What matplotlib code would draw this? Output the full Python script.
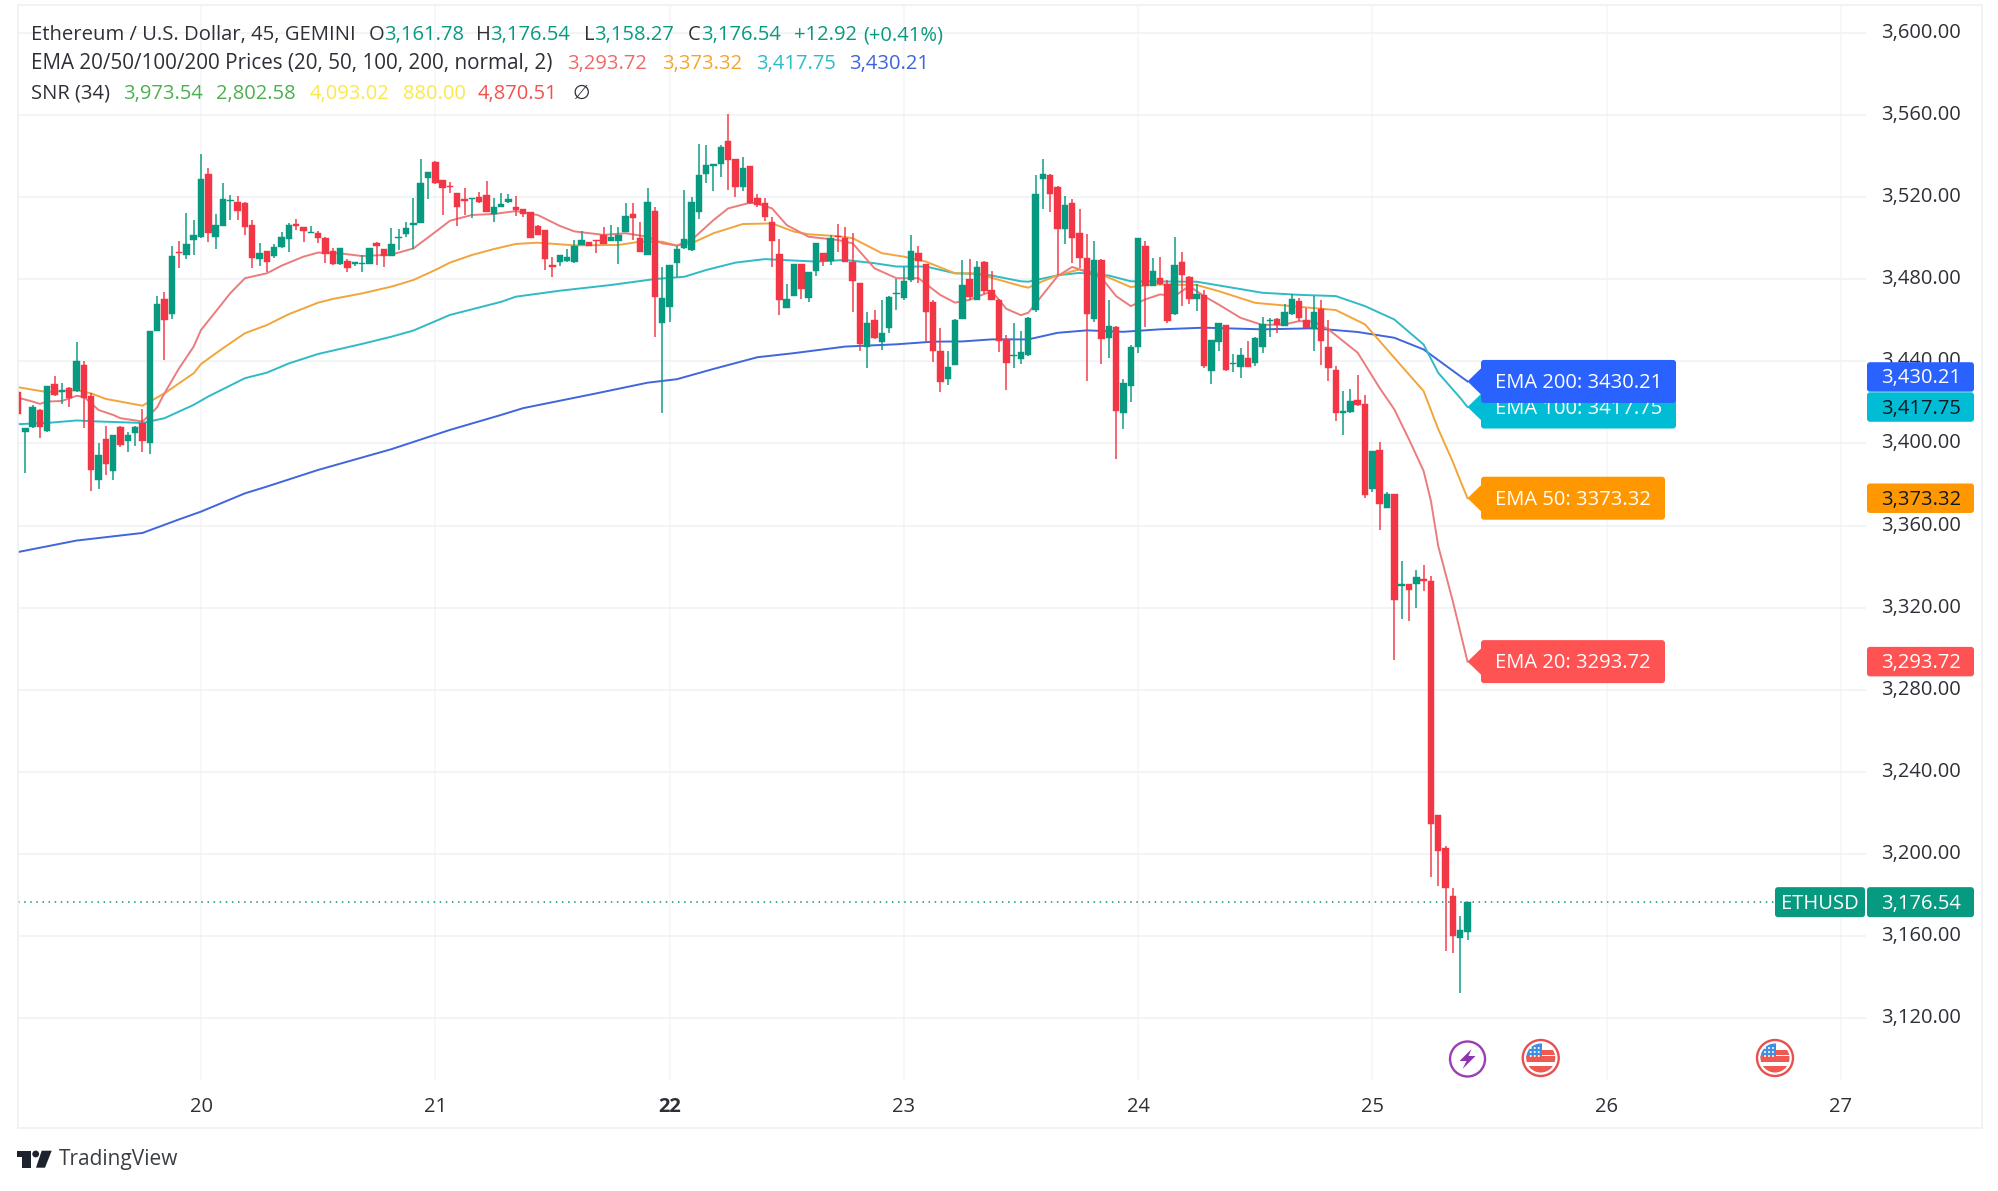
import matplotlib
matplotlib.use("Agg")
import matplotlib.pyplot as plt
from matplotlib.patches import Circle, FancyBboxPatch, Polygon, Rectangle

W, H = 1999, 1191
FONT = ["Open Sans", "DejaVu Sans"]
GREEN = "#089981"
RED = "#F23645"
DARK = "#2E3038"
GRID = "#F1F2F4"

plt.rcParams["font.family"] = FONT

# candles, 32 bars per day, bar 0 is the start of the 20th
first_bar = -25
opens = [
    3425.3, 3405.8, 3408, 3416.4, 3406, 3429, 3425, 3427, 3425.7, 3438,
    3423.3, 3382.2, 3402.2, 3386.6, 3408.2, 3401, 3405, 3410, 3400, 3455,
    3470.4, 3463, 3493, 3492, 3499, 3500.4, 3531.3, 3500.7, 3506, 3518,
    3517.8, 3517.3, 3506.4, 3490, 3493.6, 3491.5, 3495.6, 3499.4, 3506.8, 3505.3,
    3502.6, 3502.7, 3500, 3494, 3487.3, 3489, 3487.6, 3487.4, 3487.4, 3497.8,
    3494.7, 3491.5, 3500, 3502, 3506.6, 3507.6, 3529.5, 3537.3, 3528.3, 3525.4,
    3521.8, 3518.8, 3519, 3520, 3521.2, 3511.8, 3515.4, 3517.5, 3515.4, 3514.2,
    3512.6, 3505.8, 3504, 3487, 3488.6, 3488.7, 3488.2, 3496.7, 3498, 3499,
    3501.6, 3498.6, 3498.8, 3503, 3512, 3500, 3491.8, 3513.2, 3458.5, 3466.7,
    3487.8, 3495, 3494.3, 3512.6, 3531.3, 3535.3, 3536, 3547.5, 3538.4, 3525,
    3535.2, 3519.4, 3517, 3508, 3492.3, 3466.2, 3472, 3487.3, 3471, 3484,
    3492.6, 3489, 3500.7, 3500.3, 3488.6, 3478, 3447, 3460, 3449.6, 3456.4,
    3472.8, 3471, 3479.6, 3492.6, 3487.4, 3468.8, 3444.8, 3431.2, 3438.2, 3460.6,
    3480, 3470, 3488.5, 3475, 3470, 3450.7, 3442.6, 3441, 3443, 3465,
    3528.6, 3531, 3525, 3504.3, 3517.2, 3502.3, 3490.5, 3460.4, 3489.6, 3451.5,
    3456.9, 3415, 3428, 3447, 3496.1, 3476.7, 3480.7, 3477.5, 3462.9, 3488.5,
    3481.2, 3470.6, 3472.3, 3435.3, 3449.5, 3457.7, 3438.7, 3437.2, 3441.8, 3439.3,
    3447, 3459.6, 3460.4, 3457.2, 3462.9, 3469.4, 3460, 3455.6, 3465.3, 3447.1,
    3435.6, 3415, 3415.5, 3421, 3419, 3378, 3396.6, 3368.7, 3375.2, 3330.5,
    3331.3, 3331.6, 3333.9, 3333.1, 3219, 3202.9, 3179.6, 3159, 3161.78,
]
highs = [
    3426, 3407.5, 3418.8, 3417, 3428, 3433, 3429.6, 3427.4, 3449.3, 3440,
    3424.4, 3400.4, 3408.5, 3404, 3408.5, 3405.8, 3408.6, 3416.7, 3455, 3472,
    3474, 3496, 3498.8, 3512.4, 3509, 3541, 3534, 3512, 3527, 3521,
    3520.6, 3517.6, 3509, 3497.5, 3493.8, 3497, 3503.2, 3507.6, 3509.4, 3505.5,
    3506, 3503.5, 3500.5, 3495, 3495.4, 3489.7, 3488.5, 3492, 3495.2, 3498,
    3494.8, 3504.8, 3504.5, 3507.7, 3519.4, 3538.4, 3532.4, 3537.5, 3528.5, 3527.5,
    3522, 3524.3, 3519.4, 3522.7, 3527.9, 3519.4, 3521.8, 3521.5, 3520.7, 3514.4,
    3512.8, 3506.4, 3504.2, 3491, 3491.8, 3494.6, 3499, 3503.7, 3498.2, 3499.2,
    3505.3, 3506.4, 3505.6, 3517.3, 3517, 3508, 3524.6, 3515, 3486, 3487,
    3496.4, 3523.5, 3520.2, 3545.7, 3545.4, 3536.2, 3545.4, 3560.5, 3538.6, 3539.4,
    3535.4, 3521.4, 3519.4, 3510.2, 3499.4, 3477.5, 3487.3, 3487.5, 3483.7, 3497.5,
    3492.8, 3501.6, 3506.7, 3505.6, 3502.7, 3478.2, 3464.2, 3465, 3470, 3471.7,
    3480, 3486, 3501.6, 3496, 3487.6, 3470, 3456.4, 3445.2, 3460.5, 3489.4,
    3489.7, 3489, 3488.7, 3484, 3470.2, 3452.8, 3458.8, 3455, 3461.4, 3531,
    3538.7, 3531.2, 3525.2, 3520.5, 3519, 3514, 3501.8, 3498.6, 3489.8, 3470,
    3457.1, 3431.2, 3447.8, 3499.9, 3498.6, 3490.5, 3490.8, 3479.6, 3500.7, 3493.4,
    3481.4, 3477.5, 3475, 3450.6, 3458.8, 3457.9, 3443.4, 3446.3, 3449.9, 3451.7,
    3461.6, 3461.2, 3461.2, 3467.7, 3472.9, 3471, 3466, 3471.8, 3469.8, 3460,
    3437.7, 3425.5, 3426.3, 3433.2, 3423.4, 3396.5, 3400.8, 3376.5, 3375.4, 3342.8,
    3331.5, 3338.5, 3341, 3335.4, 3219.2, 3203.8, 3183.3, 3170, 3176.54,
]
lows = [
    3414, 3385.5, 3407.5, 3402.5, 3405.8, 3423, 3419, 3418, 3425.2, 3407.4,
    3377, 3378, 3384.7, 3382, 3398.5, 3396, 3399, 3396, 3395, 3455,
    3440.7, 3460.6, 3485.3, 3489.7, 3492, 3500, 3498.3, 3494.7, 3506, 3509,
    3509, 3501.6, 3485.3, 3486.6, 3483.7, 3490.2, 3495, 3493.4, 3504, 3498.3,
    3502.5, 3497.5, 3487.8, 3487, 3487, 3483.4, 3486.5, 3483.4, 3487.2, 3487,
    3486, 3491.3, 3494.3, 3500.4, 3494.7, 3507.4, 3519, 3526.5, 3511.3, 3522,
    3506, 3511.3, 3509.7, 3517, 3513, 3507.7, 3515.2, 3517.3, 3511, 3510.5,
    3500.3, 3501.4, 3484.5, 3481, 3486.6, 3488.5, 3488, 3496.5, 3496.2, 3493,
    3497, 3498.4, 3487.3, 3502.8, 3499, 3493.2, 3491.6, 3452, 3414.7, 3459,
    3481, 3494.8, 3494, 3509.4, 3526.7, 3523, 3530, 3523.5, 3520, 3523,
    3516.8, 3515.4, 3508.5, 3486, 3462.6, 3466, 3471.8, 3470.4, 3469, 3481.8,
    3486.6, 3487, 3493.4, 3488.4, 3464.2, 3444.8, 3437, 3451.1, 3445.5, 3454,
    3465, 3470, 3478.5, 3478, 3449.6, 3439.6, 3425, 3428.5, 3438, 3460.4,
    3470, 3469.8, 3473, 3469.8, 3444.7, 3426, 3437, 3438.5, 3442.8, 3464,
    3514, 3513, 3482.3, 3497, 3487.7, 3485.6, 3430.4, 3459.3, 3438.5, 3441.8,
    3392.2, 3406.9, 3420, 3443.9, 3456.7, 3476.5, 3477.3, 3458.8, 3462.7, 3467,
    3467.7, 3464.5, 3436.6, 3428.8, 3445, 3435.5, 3435, 3432, 3437.2, 3437.7,
    3443.9, 3452, 3453.6, 3457, 3462.5, 3459.6, 3456.2, 3445, 3438, 3430.4,
    3411, 3404, 3415, 3418.3, 3373.6, 3376.5, 3358, 3368.4, 3294.7, 3314.3,
    3313.5, 3319.9, 3328.3, 3188.9, 3184.3, 3152.9, 3151.6, 3132.4, 3158.27,
]
closes = [
    3414.4, 3407.4, 3418, 3408, 3428, 3423.6, 3426, 3422, 3440, 3422.3,
    3387, 3394.4, 3390, 3404, 3399.3, 3404, 3408, 3401, 3455, 3468,
    3460, 3491.3, 3492.6, 3497, 3501.6, 3528.7, 3502.4, 3506.4, 3519, 3518.6,
    3513.4, 3505.3, 3490.2, 3493, 3488.6, 3495.6, 3500.4, 3506.4, 3506, 3503.7,
    3503, 3500, 3492.3, 3487.4, 3495.4, 3485.6, 3488, 3487.8, 3495.2, 3496,
    3491.5, 3497, 3500.4, 3504.8, 3507, 3526.7, 3532.4, 3526.7, 3524.3, 3524.8,
    3515.4, 3518.3, 3519.3, 3517.8, 3513, 3515.4, 3516.7, 3519, 3513.7, 3512,
    3500.3, 3501.6, 3489.7, 3485.8, 3491.8, 3490.7, 3496.2, 3499, 3496.4, 3498.6,
    3497.2, 3500.7, 3501.6, 3511, 3509.7, 3493.4, 3517.5, 3471.5, 3470.7, 3487,
    3494.7, 3499.6, 3517.5, 3530.8, 3535.6, 3536, 3544.6, 3538, 3524.8, 3534.2,
    3517, 3516.2, 3510.2, 3498.8, 3470, 3470.2, 3487.3, 3475.3, 3483.7, 3497.5,
    3489, 3500, 3500.4, 3488.6, 3479.3, 3448.5, 3458.5, 3451.3, 3454, 3471.5,
    3473.5, 3479, 3494, 3489, 3464.2, 3444.8, 3430, 3437.4, 3460, 3477.2,
    3471.2, 3486, 3474.2, 3470, 3450, 3439.3, 3443, 3444.7, 3461.2, 3521.3,
    3531.5, 3521.6, 3504.7, 3516.4, 3500.2, 3490.5, 3463, 3489.6, 3450.7, 3457.2,
    3415.8, 3429.3, 3447, 3499.9, 3476.7, 3484, 3477.5, 3459.6, 3486.7, 3482.3,
    3470.2, 3472.9, 3437.7, 3450.4, 3458.5, 3435.7, 3439, 3443, 3437.4, 3451.5,
    3458.3, 3460, 3457.7, 3464.2, 3470.2, 3461, 3456.4, 3464.2, 3449.9, 3436.9,
    3415, 3415.5, 3420.6, 3418.5, 3374.7, 3396.3, 3370.3, 3375.2, 3323.8, 3331.3,
    3328.8, 3334.8, 3333.1, 3214.5, 3201.6, 3183.3, 3160, 3163.2, 3176.54,
]

ema20_bars = [-25, -23, -22, -21, -19, -17, -16, -14, -12, -11, -8, -7, -6, -5, -3, -1, 0, 2, 4, 6,
              9, 11, 14, 16, 19, 22, 26, 29, 32, 34, 37, 40, 43, 46, 49, 51, 55, 58, 61, 63,
              65, 67, 70, 72, 75, 76, 78, 80, 83, 87, 89, 92, 95, 98, 101, 103, 105, 108, 110, 112,
              113, 115, 117, 119, 120, 123, 125, 127, 129, 131, 133, 135, 137, 139, 142, 145, 148, 150, 152, 154,
              158, 161, 163, 165, 167, 168, 169, 171, 173]
ema20_vals = [3422.3, 3420.4, 3419.3, 3420.4, 3420.7, 3423.2, 3422.8, 3416.3, 3413.9, 3412.3, 3410.7, 3413.9, 3417.6, 3424.4, 3436.6, 3447.2, 3455.3, 3464.2, 3473.2, 3480.5,
              3482.9, 3486.6, 3491, 3493, 3492.6, 3491.3, 3492, 3495, 3503, 3508.5, 3511.3, 3511.8, 3513.2, 3511.3, 3506, 3503.3, 3501.6, 3502.4, 3500.7, 3497.5,
              3496.4, 3499.1, 3508.8, 3514.5, 3517.3, 3516.9, 3514.5, 3506.4, 3500.7, 3499.1, 3497.5, 3485.3, 3480.5, 3480.5, 3472.3, 3468.6, 3470, 3474.2, 3465.6, 3462.5,
              3463.7, 3472.6, 3481.5, 3486, 3484.8, 3480.7, 3471.8, 3466.9, 3470.2, 3472.6, 3471.8, 3476.7, 3471.8, 3467.7, 3461.2, 3457.7, 3458, 3459.6, 3459.3, 3455.6,
              3444.2, 3427, 3416.6, 3402, 3386.6, 3372, 3350, 3323, 3293.72]
ema50_bars = [-25, -21, -17, -15, -13, -8, -7, -5, -1, 0, 3, 6, 9, 12, 16, 18, 22, 26, 29, 32,
              34, 37, 40, 43, 46, 51, 57, 60, 63, 65, 67, 70, 74, 78, 81, 83, 87, 89, 93, 96,
              99, 103, 106, 108, 112, 113, 115, 117, 120, 123, 127, 130, 136, 139, 144, 149, 155, 159, 162, 167,
              169, 170, 171, 172, 173]
ema50_vals = [3427.4, 3425, 3426, 3424.4, 3421.7, 3418.4, 3420.4, 3424.4, 3434.2, 3438.7, 3446.4, 3453.7, 3457.7, 3463, 3468.6, 3470.4, 3473.1, 3476.4, 3479.6, 3484.5,
              3488.1, 3491.8, 3494.7, 3497.2, 3497.8, 3496.5, 3496.7, 3498.3, 3498.3, 3496.4, 3497.5, 3502.4, 3506.9, 3507.2, 3503.2, 3501.9, 3501, 3500, 3492.7, 3491,
              3488.6, 3482.9, 3482.9, 3480.7, 3476.7, 3475.9, 3479.1, 3481.9, 3484.8, 3482.3, 3476.2, 3477.5, 3477.2, 3474.2, 3468.5, 3466.9, 3465, 3458, 3445.8, 3425.5,
              3407, 3399, 3391, 3382, 3373.32]
ema100_bars = [-25, -21, -17, -14, -8, -5, -1, 1, 6, 9, 12, 16, 22, 26, 29, 34, 41, 43, 49, 56,
               62, 66, 69, 73, 77, 84, 88, 92, 95, 99, 103, 106, 108, 112, 113, 117, 120, 124, 127, 136,
               139, 145, 150, 155, 159, 163, 167, 169, 172, 173]
ema100_vals = [3409.4, 3410, 3411.2, 3410.7, 3410, 3412.3, 3418.8, 3422.9, 3431.8, 3434.5, 3439, 3443.6, 3448.5, 3452, 3455, 3462.6, 3469, 3471.5, 3474.4, 3477.2,
               3480.1, 3481.2, 3484.5, 3488.1, 3489.8, 3488.6, 3489.4, 3487.8, 3486.2, 3486.2, 3482.9, 3482.6, 3481.8, 3479, 3478.8, 3481.9, 3483.1, 3481.8, 3479, 3478.8,
               3477, 3473.4, 3472.4, 3471.8, 3466.9, 3460.4, 3448.2, 3434.4, 3422.2, 3417.75]
ema200_bars = [-25, -17, -8, -3, 0, 6, 9, 16, 26, 34, 41, 44, 54, 61, 65, 70, 76, 81, 88, 95,
               100, 104, 108, 113, 117, 121, 126, 131, 137, 145, 152, 158, 163, 167, 172, 173]
ema200_vals = [3347.1, 3352.7, 3356.4, 3363, 3366.8, 3375.7, 3379, 3387.1, 3397.2, 3406.6, 3413.9, 3417.2, 3424.4, 3429.6, 3431.3, 3436.3, 3442, 3444, 3447.2, 3448.3,
               3449.6, 3449.7, 3450.7, 3450.7, 3453.9, 3455.1, 3454.4, 3455.6, 3456.4, 3455.6, 3456.1, 3454.3, 3451.5, 3445.8, 3432.8, 3430.21]

ema_names = ["EMA 20", "EMA 50", "EMA 100", "EMA 200"]
ema_last = [3293.72, 3373.32, 3417.75, 3430.21]
ema_last_text = ["3,293.72", "3,373.32", "3,417.75", "3,430.21"]

price_ticks = [3120, 3160, 3200, 3240, 3280, 3320, 3360, 3400, 3440, 3480, 3520, 3560, 3600]
day_labels = ["20", "21", "22", "23", "24", "25", "26", "27"]
day_bars = [0, 32, 64, 96, 128, 160, 192, 224]
last_price = 3176.54
event_bars = [173, 183, 215]


def px_x(x):
    return x / W


def px_y(y):
    return 1 - y / H


def draw_candles(ax):
    for n in range(len(opens)):
        bar = first_bar + n
        o, h, l, c = opens[n], highs[n], lows[n], closes[n]
        color = GREEN if c >= o else RED
        ax.plot([bar, bar], [l, h], color=color, lw=1.25, alpha=0.85,
                solid_capstyle="butt", zorder=5)
        ax.add_patch(Rectangle((bar - 0.44, min(o, c)), 0.88, max(abs(c - o), 0.6),
                               facecolor=color, edgecolor=color, lw=0.3, zorder=6))


def draw_emas(ax):
    ax.plot(ema200_bars, ema200_vals, color="#3F66DC", lw=1.4, zorder=3)
    ax.plot(ema100_bars, ema100_vals, color="#2FBAC6", lw=1.4, zorder=3)
    ax.plot(ema50_bars, ema50_vals, color="#F2A53A", lw=1.4, zorder=3)
    ax.plot(ema20_bars, ema20_vals, color="#EB7C7C", lw=1.4, zorder=3)


def pill(top, x0, x1, yc, height, color, zorder=5):
    top.add_patch(FancyBboxPatch((x0 + 3, yc - height / 2 + 3), x1 - x0 - 6, height - 6,
                                 boxstyle="round,pad=3,rounding_size=3",
                                 facecolor=color, edgecolor="none", zorder=zorder))


def draw_ema_labels(top, price_y):
    colors = ["#FF5252", "#FF9800", "#00BCD4", "#2962FF"]
    right = [1665, 1665, 1676, 1676]
    scale_text = ["white", "#131722", "#131722", "white"]
    # the two top scale labels are pushed apart like on the site
    scale_shift = [0, 0, 0, -4.5]
    for n in [0, 1, 2, 3]:
        yc = price_y(ema_last[n])
        z = 5 + n
        pill(top, 1481, right[n], yc, 43, colors[n], zorder=z)
        top.add_patch(Polygon([[1467.5, yc], [1482, yc - 14], [1482, yc + 14]],
                              facecolor=colors[n], edgecolor="none", zorder=z))
        top.text(1495.5, yc + 1.5, f"{ema_names[n]}: {ema_last[n]:.2f}", color="white",
                 fontsize=14.5, va="center", ha="left", zorder=z)
        ys = yc + scale_shift[n]
        pill(top, 1867, 1974, ys, 29.5, colors[n], zorder=10 + n)
        top.text(1921, ys + 1.5, ema_last_text[n], color=scale_text[n], fontsize=14.5,
                 va="center", ha="center", zorder=20)


def draw_last_price(top, price_y):
    yc = price_y(last_price)
    pill(top, 1775, 1865, yc, 30, GREEN, zorder=8)
    pill(top, 1867, 1974, yc, 30, GREEN, zorder=8)
    top.text(1820, yc + 1.5, "ETHUSD", color="white", fontsize=14.5, va="center", ha="center", zorder=20)
    top.text(1921, yc + 1.5, "3,176.54", color="white", fontsize=14.5, va="center", ha="center", zorder=20)


def draw_flag(top, x, y):
    top.add_patch(Circle((x, y), 18, facecolor="white", edgecolor="#E8504F", lw=1.7, zorder=7))
    clip = Circle((x, y), 14.5, transform=top.transData)
    parts = [
        Rectangle((x - 15, y - 15), 30, 30, facecolor="white", edgecolor="none"),
        Rectangle((x - 15, y - 15), 16, 15, facecolor="#3F8FE0", edgecolor="none"),
        Rectangle((x + 1, y - 8), 15, 5, facecolor="#EE5A52", edgecolor="none"),
        Rectangle((x - 15, y - 2), 30, 6, facecolor="#EE5A52", edgecolor="none"),
        Rectangle((x - 15, y + 8), 30, 8, facecolor="#EE5A52", edgecolor="none"),
    ]
    for part in parts:
        part.set_zorder(8)
        top.add_patch(part)
        part.set_clip_path(clip)
    for dx in [-10, -6, -2]:
        for dy in [-10, -6, -2]:
            top.add_patch(Circle((x + dx, y + dy), 1, facecolor="white", edgecolor="none", zorder=9))


def draw_bolt(top, x, y):
    top.add_patch(Circle((x, y), 17.5, facecolor="white", edgecolor="#9C3DB5", lw=1.7, zorder=7))
    top.add_patch(Polygon([[x + 4, y - 10], [x - 8, y + 2], [x - 1, y + 2], [x - 5, y + 10],
                           [x + 8, y - 3], [x + 1, y - 3]],
                          facecolor="#8E35AE", edgecolor="none", zorder=8))


def draw_logo(top):
    top.add_patch(Polygon([[17.3, 1150.7], [30.7, 1150.7], [30.7, 1167.7], [21.7, 1167.7],
                           [21.7, 1157], [17.3, 1157]], facecolor="#1E222D", edgecolor="none"))
    top.add_patch(Circle((35.7, 1154), 3.4, facecolor="#1E222D", edgecolor="none"))
    top.add_patch(Polygon([[41.7, 1150.7], [51.7, 1150.7], [45, 1167.7], [36, 1167.7]],
                          facecolor="#1E222D", edgecolor="none"))
    top.text(59, 1160, "TradingView", color="#3A3D45", fontsize=15, va="center", ha="left")


def draw_legend(fig):
    rows = [
        (35, 14.6, [(31, "Ethereum / U.S. Dollar, 45, GEMINI", DARK)]),
        (35, 14.5, [(369, "O", DARK), (384, "3,161.78", GREEN),
                    (476, "H", DARK), (490, "3,176.54", GREEN),
                    (584, "L", DARK), (594, "3,158.27", GREEN),
                    (688, "C", DARK), (701, "3,176.54", GREEN),
                    (794, "+12.92", GREEN), (863, "(+0.41%)", GREEN)]),
        (64, 14.9, [(31, "EMA 20/50/100/200 Prices (20, 50, 100, 200, normal, 2)", DARK)]),
        (64, 14.5, [(567, "3,293.72", "#EE6A6A"), (662, "3,373.32", "#F3A62F"),
                    (756, "3,417.75", "#2BBBC9"), (849, "3,430.21", "#3E65DB")]),
        (94, 14.5, [(31, "SNR (34)", DARK),
                    (123, "3,973.54", "#4CAF50"), (216, "2,802.58", "#4CAF50"),
                    (310, "4,093.02", "#FBE94B"), (403, "880.00", "#FBE94B"),
                    (478, "4,870.51", "#EF5350"), (573, "\u2205", DARK)]),
    ]
    for y, size, items in rows:
        for x, text, color in items:
            fig.text(px_x(x), px_y(y), text, color=color, fontsize=size, va="center", ha="left")


def main():
    fig = plt.figure(figsize=(W / 100, H / 100), dpi=100, facecolor="white")

    # chart pane, price scale and date scale sit outside of it
    ax = fig.add_axes([px_x(17.7), px_y(1080), (1866 - 17.7) / W, (1080 - 5) / H])
    ax.set_xlim(-25.04, 227.43)
    ax.set_ylim(3089.9, 3613.6)
    for side in ax.spines.values():
        side.set_visible(False)

    ax.set_yticks(price_ticks)
    ax.set_yticklabels([f"{p:,.2f}" for p in price_ticks], fontsize=14.5, color=DARK, va="center")
    ax.yaxis.tick_right()
    ax.tick_params(axis="y", length=0, pad=11)
    ax.set_xticks(day_bars)
    ax.set_xticklabels(day_labels, fontsize=14.5, color=DARK)
    ax.tick_params(axis="x", length=0, pad=12)
    ax.get_xticklabels()[2].set_fontweight("bold")
    ax.grid(True, axis="y", color=GRID, lw=1.2)
    ax.grid(True, axis="x", color="#F5F6F8", lw=1.2)
    ax.set_axisbelow(True)

    draw_emas(ax)
    draw_candles(ax)
    ax.plot([first_bar, 215], [last_price, last_price], color=GREEN, lw=1.1,
            linestyle=(0, (1, 3)), zorder=4)

    # overlay in picture pixels for frame, flags, labels, logo
    top = fig.add_axes([0, 0, 1, 1], facecolor="none")
    top.set_xlim(0, W)
    top.set_ylim(H, 0)
    top.axis("off")
    top.add_patch(Rectangle((17.7, 5), 1982 - 17.7, 1128 - 5, facecolor="none",
                            edgecolor="#EEF0F3", lw=1.2))

    def price_y(p):
        return H - ax.transData.transform((0, p))[1]

    def bar_x(b):
        return ax.transData.transform((b, 0))[0]

    draw_last_price(top, price_y)
    draw_ema_labels(top, price_y)
    draw_bolt(top, bar_x(event_bars[0]), 1059)
    draw_flag(top, bar_x(event_bars[1]), 1058)
    draw_flag(top, bar_x(event_bars[2]), 1058)
    draw_logo(top)
    draw_legend(fig)

    fig.savefig("out.png", dpi=100, facecolor="white")
    plt.close(fig)


if __name__ == "__main__":
    main()
